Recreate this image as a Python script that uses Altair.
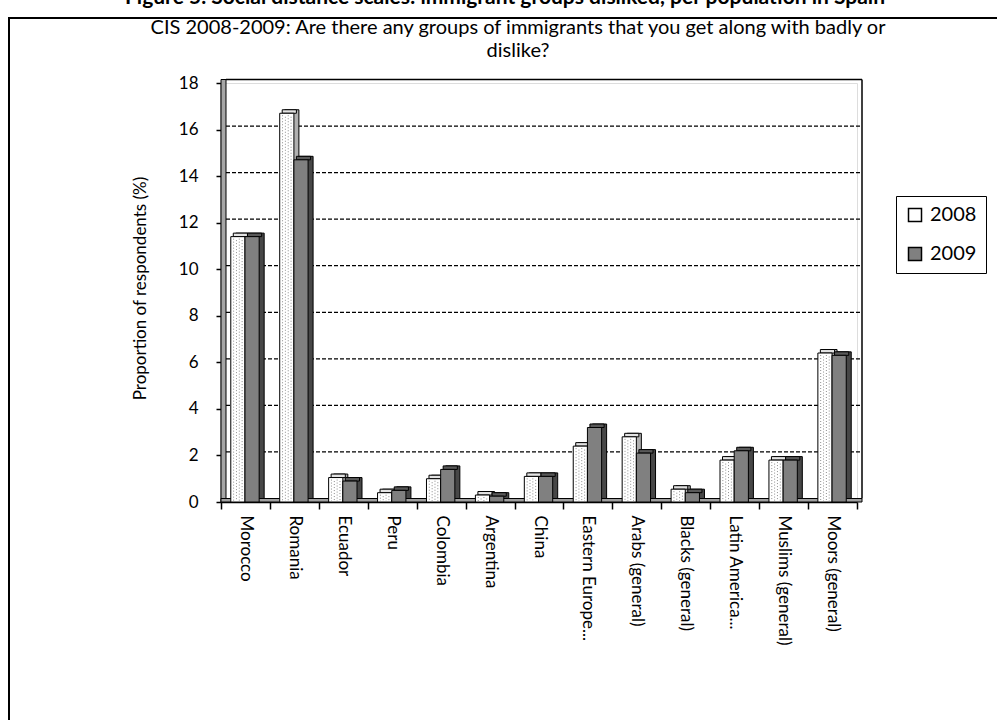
import altair as alt
import pandas as pd

# ---- data -------------------------------------------------------------
categories = [
    "Morocco", "Romania", "Ecuador", "Peru", "Colombia", "Argentina", "China",
    "Eastern Europe...", "Arabs (general)", "Blacks (general)", "Latin America...",
    "Muslims (general)", "Moors (general)",
]
years = ["2008", "2009"]
share_2008 = [11.4, 16.7, 1.05, 0.4, 1.0, 0.3, 1.1, 2.4, 2.8, 0.55, 1.8, 1.8, 6.4]
share_2009 = [11.4, 14.7, 0.9, 0.5, 1.4, 0.25, 1.1, 3.2, 2.1, 0.4, 2.2, 1.8, 6.3]
y_ticks = [0, 2, 4, 6, 8, 10, 12, 14, 16, 18]

fig_title = "Figure 5. Social distance scales: immigrant groups disliked, per population in Spain"
sub_title = "CIS 2008-2009: Are there any groups of immigrants that you get along with badly or\ndislike?"
y_title = "Proportion of respondents (%)"

# ---- layout -----------------------------------------------------------
W, H = 636, 419
PAD = {"left": 221, "top": 83, "right": 140, "bottom": 218}
N = len(categories)
BAR_START, BAR_W = 0.2, 0.29      # position / width of a bar inside a category slot
DX, DY = 5, -3.5                  # depth of the 3-D effect, in pixels
FONT = "Lato"

rows = []
for i, cat in enumerate(categories):
    for s, (yr, vals) in enumerate(zip(years, [share_2008, share_2009])):
        rows.append({"category": cat, "idx": i, "series": s, "year": yr, "value": vals[i]})
bars = pd.DataFrame(rows)

xs = alt.Scale(domain=[0, N], nice=False, zero=False)
ys = alt.Scale(domain=[0, 18], nice=False)

y_axis = alt.Axis(
    values=y_ticks, title=y_title, grid=False,
    titleFont=FONT, titleFontSize=17, titleFontWeight="normal", titleColor="black",
    titlePadding=29, titleY=205,
    labelFont=FONT, labelFontSize=17, labelColor="black", labelPadding=18,
    tickSize=5, tickColor="black", tickWidth=1.5,
    domainColor="black", domainWidth=1.5,
)


def qx(field):
    return alt.X(f"{field}:Q", scale=xs, axis=None)


def qy(field):
    return alt.Y(f"{field}:Q", scale=ys, axis=y_axis)


bar_base = alt.Chart(bars).transform_calculate(
    x0=f"datum.idx + {BAR_START} + datum.series * {BAR_W}",
    x1=f"datum.idx + {BAR_START} + (datum.series + 1) * {BAR_W}",
    zero="0",
    side="datum.series == 0 ? '#b0b0b0' : '#474747'",
    top="datum.series == 0 ? '#e3e3e3' : '#595959'",
)

# side faces (a copy of each bar pushed back in depth)
depth = bar_base.mark_rect(
    stroke="black", strokeWidth=1, xOffset=DX, x2Offset=DX, yOffset=DY, y2Offset=DY
).encode(
    x=qx("x0"), x2="x1:Q", y=qy("value"), y2="zero:Q",
    fill=alt.Fill("side:N", scale=None),
)

# top faces
tops = bar_base.mark_rect(
    stroke="black", strokeWidth=1, xOffset=DX / 2, x2Offset=DX / 2, yOffset=DY
).encode(
    x=qx("x0"), x2="x1:Q", y=qy("value"), y2="value:Q",
    fill=alt.Fill("top:N", scale=None),
)

# front faces
front = bar_base.mark_rect(stroke="black", strokeWidth=1).encode(
    x=qx("x0"), x2="x1:Q", y=qy("value"), y2="zero:Q",
    fill=alt.Fill(
        "year:N",
        scale=alt.Scale(domain=years, range=["#ffffff", "#808080"]),
        legend=alt.Legend(
            title=None, orient="none", legendX=675, legendY=113,
            symbolType="square", symbolSize=169,
            symbolStrokeColor="black", symbolStrokeWidth=1.5,
            labelFont=FONT, labelFontSize=20, labelColor="black", labelOffset=5,
            padding=9, rowPadding=19, strokeColor="black",
        ),
    ),
)

# stipple on the 2008 bars
def stipple(ks, dash_offset):
    return alt.Chart(bars).transform_filter("datum.series == 0").transform_calculate(
        ks=str(ks)
    ).transform_flatten(["ks"]).transform_calculate(
        xr=f"datum.idx + {BAR_START} + datum.ks * {BAR_W} / 5",
        zero="0",
    ).mark_rule(
        color="#8c8c8c", strokeWidth=1, strokeDash=[1, 2], strokeDashOffset=dash_offset,
        yOffset=2, y2Offset=-1,
    ).encode(x=qx("xr"), y=qy("value"), y2="zero:Q")


dots_a = stipple([1, 3], 0)
dots_b = stipple([2, 4], 1.5)

# walls, floor and gridlines
grid_df = pd.DataFrame({"v": y_ticks})
wall_base = alt.Chart(grid_df).transform_calculate(a="0", b=str(N), top="18", zero="0")

floor = wall_base.transform_filter("datum.v == 0").mark_rect(
    fill="#a0a0a0", stroke="black", strokeWidth=1, x2Offset=DX, yOffset=DY
).encode(x=qx("a"), x2="b:Q", y=qy("zero"), y2="zero:Q")

left_wall = wall_base.transform_filter("datum.v == 0").mark_rect(
    fill="#a6a6a6", stroke="black", strokeWidth=1, x2Offset=DX, yOffset=DY
).encode(x=qx("a"), x2="a:Q", y=qy("top"), y2="zero:Q")

grid = wall_base.transform_filter("datum.v > 0 && datum.v < 18").mark_rule(
    color="black", strokeWidth=1.3, strokeDash=[4, 2], xOffset=DX, x2Offset=DX, yOffset=DY
).encode(x=qx("a"), x2="b:Q", y=qy("v"))

back_top = wall_base.transform_filter("datum.v == 18").mark_rule(
    color="black", strokeWidth=1.5, xOffset=DX, x2Offset=DX, yOffset=DY
).encode(x=qx("a"), x2="b:Q", y=qy("v"))

back_right = wall_base.transform_filter("datum.v == 0").mark_rule(
    color="black", strokeWidth=1.5, xOffset=DX, yOffset=DY, y2Offset=DY
).encode(x=qx("b"), y=qy("top"), y2="zero:Q")

# frame and headings
one = pd.DataFrame({"t": [0]})
frame = alt.Chart(one).mark_rect(fillOpacity=0, stroke="black", strokeWidth=2).encode(
    x=alt.value(-212), x2=alt.value(800), y=alt.value(-65), y2=alt.value(660)
)
heading = alt.Chart(pd.DataFrame({"t": [fig_title]})).mark_text(
    font=FONT, fontSize=21, fontWeight="bold", color="black", align="center", baseline="alphabetic"
).encode(text="t:N", x=alt.value(284), y=alt.value(-79))
subheading = alt.Chart(pd.DataFrame({"t": [sub_title]})).mark_text(
    font=FONT, fontSize=20, color="black", align="center", baseline="alphabetic",
    lineBreak="\n", lineHeight=23,
).encode(text="t:N", x=alt.value(297), y=alt.value(-49))

plot = alt.layer(
    frame, heading, subheading,
    left_wall, floor, grid, back_top, back_right,
    depth, tops, front, dots_a, dots_b,
)

# category axis drawn on a band scale spanning the same width
cat_axis = alt.Chart(pd.DataFrame({"category": categories})).mark_point(opacity=0).encode(
    x=alt.X(
        "category:N", sort=categories,
        scale=alt.Scale(paddingInner=0, paddingOuter=0),
        axis=alt.Axis(
            title=None, labelAngle=90, labelAlign="left", labelBaseline="middle",
            tickBand="extent", tickSize=7, tickColor="black", tickWidth=1.5,
            domainColor="black", domainWidth=1.5,
            labelFont=FONT, labelFontSize=17, labelColor="black", labelPadding=6,
            labelLimit=0, labelOverlap=False,
        ),
    ),
    y=alt.value(0),
)

chart = alt.layer(cat_axis, plot).resolve_scale(x="independent").properties(
    width=W, height=H,
    autosize=alt.AutoSizeParams(type="none"),
    padding=PAD,
    background="white",
).configure_view(strokeWidth=0).configure(font=FONT)

chart.save("out.html", embed_options={"renderer": "svg", "actions": False})
